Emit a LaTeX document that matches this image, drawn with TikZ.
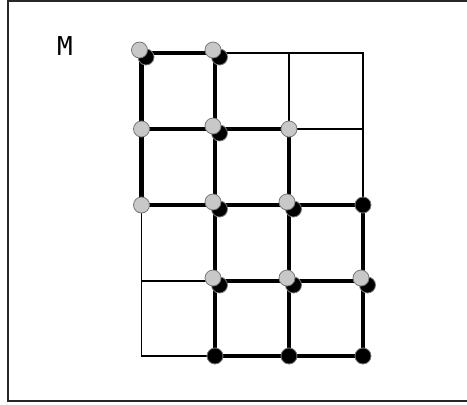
\documentclass[tikz,border=0pt]{standalone}
\usepackage{fontspec}
\setmonofont{DejaVu Sans Mono}
\usetikzlibrary{positioning}
\definecolor{dotgray}{RGB}{200,200,200}
\definecolor{rimgray}{RGB}{120,120,120}
\definecolor{framegray}{RGB}{40,40,40}

\begin{document}
\begin{tikzpicture}[x=1pt,y=-1pt,
  thinedge/.style={line width=1.2pt},
  thickedge/.style={line width=4.2pt,line cap=round},
  greydot/.style={circle,fill=dotgray,draw=rimgray,line width=0.8pt,minimum size=16pt,inner sep=0pt},
  blackdot/.style={circle,fill=black,draw=rimgray,line width=0.8pt,minimum size=16pt,inner sep=0pt}]
\useasboundingbox (0,0) rectangle (467,405);
\draw[framegray,line width=1.6pt] (467,1) -- (8,1) -- (8,401) -- (467,401);
\node[font=\ttfamily\fontsize{26}{30}\selectfont] (label) at (65,46) {M};
% grid points
\foreach \i/\x in {0/141.5,1/215,2/289,3/363}
  \foreach \j/\y in {0/53,1/129,2/205,3/281,4/356}
    \coordinate (v-\i-\j) at (\x,\y);
% thin grid
\draw[thinedge] (v-0-0) rectangle (v-3-4);
\foreach \i in {1,2}
  \draw[thinedge] (v-\i-0) -- (v-\i-4);
\foreach \j in {1,2,3}
  \draw[thinedge] (v-0-\j) -- (v-3-\j);
% thick edges
\foreach \a/\b in {0-0/1-0, 0-1/1-1, 1-1/2-1, 0-2/1-2, 1-2/2-2, 2-2/3-2,
                   1-3/2-3, 2-3/3-3, 1-4/2-4, 2-4/3-4,
                   0-0/0-1, 0-1/0-2, 1-0/1-1, 1-1/1-2, 1-2/1-3, 1-3/1-4,
                   2-1/2-2, 2-2/2-3, 2-3/2-4, 3-2/3-3, 3-3/3-4}
  \draw[thickedge] (v-\a) -- (v-\b);
% black dots
\foreach \p in {3-2, 1-4, 2-4, 3-4}
  \node[blackdot] (k-\p) at (v-\p) {};
\foreach \p in {0-0, 1-0, 1-1, 1-2, 2-2, 1-3, 2-3, 3-3}
  \node[blackdot] (k-\p) at ([shift={(4.5,4)}]v-\p) {};
% grey dots
\foreach \p in {0-1, 2-1, 0-2}
  \node[greydot] (g-\p) at (v-\p) {};
\foreach \p in {0-0, 1-0, 1-1, 1-2, 2-2, 1-3, 2-3, 3-3}
  \node[greydot] (g-\p) at ([shift={(-2,-3)}]v-\p) {};
\end{tikzpicture}
\end{document}
